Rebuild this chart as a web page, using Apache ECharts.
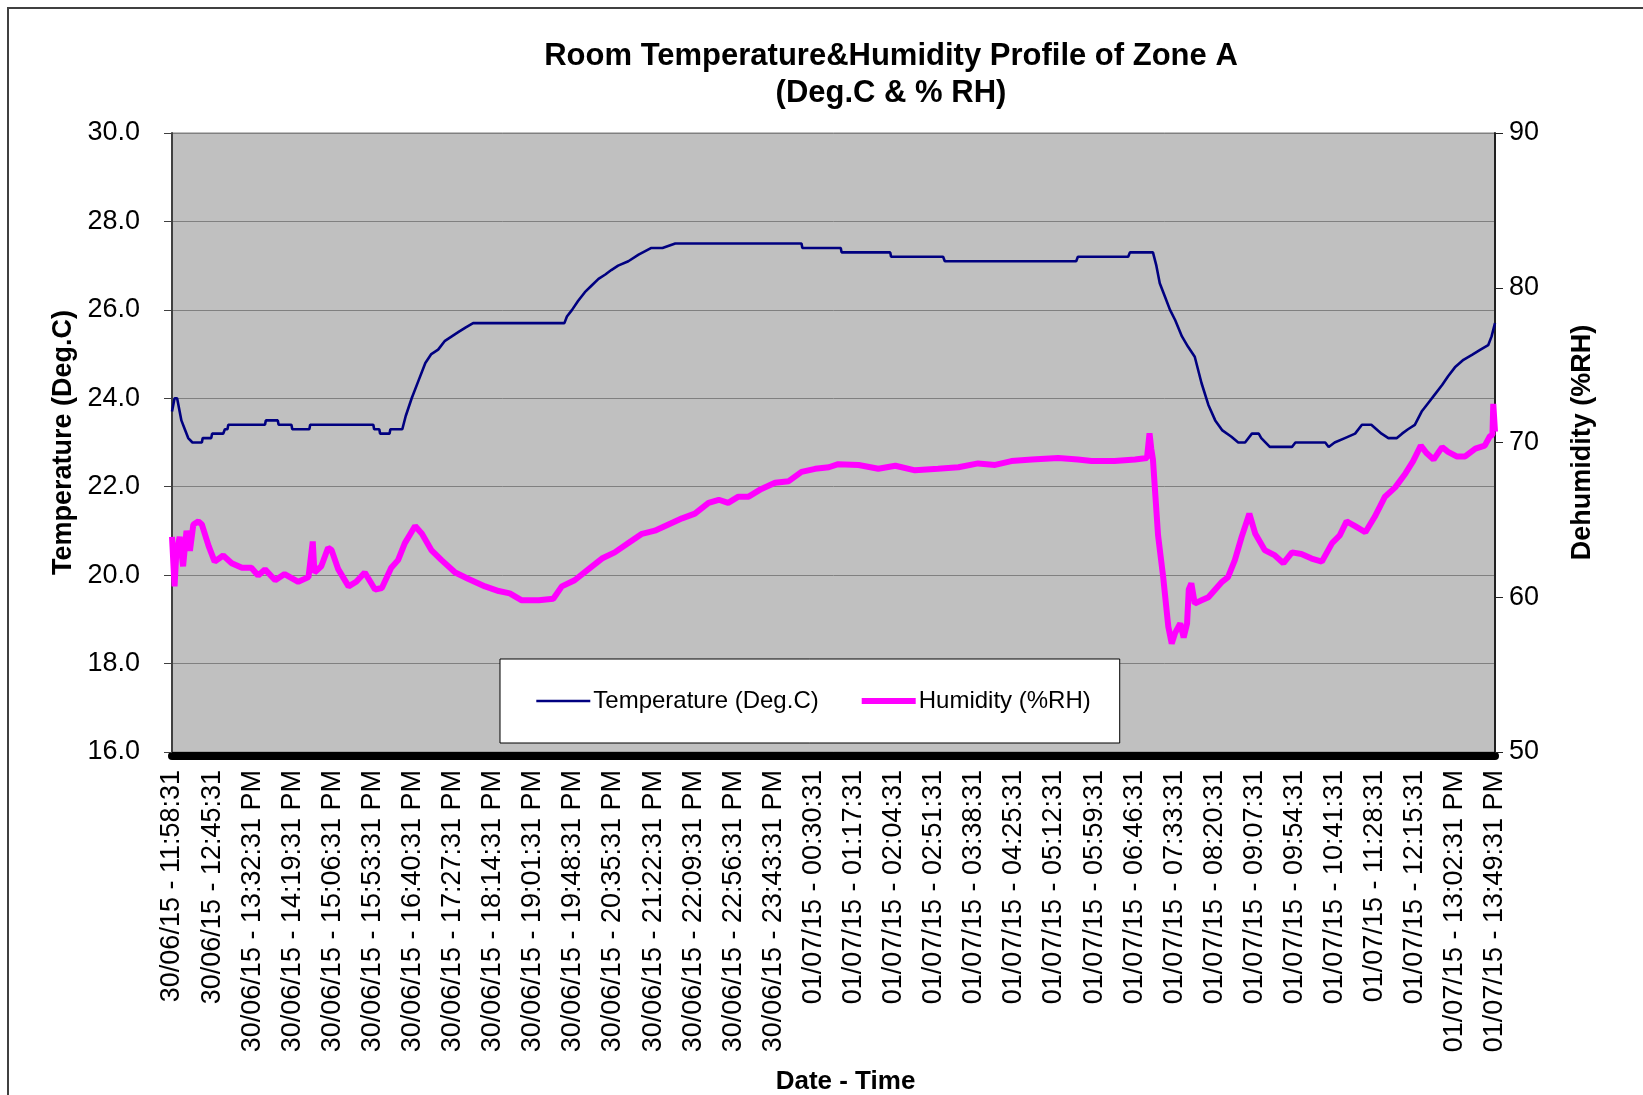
<!DOCTYPE html>
<html>
<head>
<meta charset="utf-8">
<title>Room Temperature&amp;Humidity Profile of Zone A</title>
<script src="https://cdn.jsdelivr.net/npm/echarts@6/dist/echarts.min.js"></script>
<style>
  html, body { margin: 0; padding: 0; background: #fff; }
  #chart { width: 1643px; height: 1095px; }
</style>
</head>
<body>
<div id="chart"></div>
<script>
// x axis: minutes since first reading, one label every 47 minutes
const labelStep = 47;
const xLabels = [
  '30/06/15 - 11:58:31', '30/06/15 - 12:45:31', '30/06/15 - 13:32:31 PM', '30/06/15 - 14:19:31 PM',
  '30/06/15 - 15:06:31 PM', '30/06/15 - 15:53:31 PM', '30/06/15 - 16:40:31 PM', '30/06/15 - 17:27:31 PM',
  '30/06/15 - 18:14:31 PM', '30/06/15 - 19:01:31 PM', '30/06/15 - 19:48:31 PM', '30/06/15 - 20:35:31 PM',
  '30/06/15 - 21:22:31 PM', '30/06/15 - 22:09:31 PM', '30/06/15 - 22:56:31 PM', '30/06/15 - 23:43:31 PM',
  '01/07/15 - 00:30:31', '01/07/15 - 01:17:31', '01/07/15 - 02:04:31', '01/07/15 - 02:51:31',
  '01/07/15 - 03:38:31', '01/07/15 - 04:25:31', '01/07/15 - 05:12:31', '01/07/15 - 05:59:31',
  '01/07/15 - 06:46:31', '01/07/15 - 07:33:31', '01/07/15 - 08:20:31', '01/07/15 - 09:07:31',
  '01/07/15 - 09:54:31', '01/07/15 - 10:41:31', '01/07/15 - 11:28:31', '01/07/15 - 12:15:31',
  '01/07/15 - 13:02:31 PM', '01/07/15 - 13:49:31 PM'
];

// temperature (Deg.C)
const tempTime = [0, 3, 6, 11, 15, 19, 24, 35, 36, 46, 47, 60, 62, 65, 66, 109, 110, 124, 125, 140,
  141, 161, 162, 236, 237, 243, 244, 255, 256, 270, 274, 281, 289, 297, 304, 312, 320, 328, 336, 344,
  353, 460, 463, 469, 476, 484, 492, 500, 508, 515, 523, 535, 547, 562, 575, 590, 738, 739, 784, 785,
  842, 843, 904, 906, 1060, 1062, 1121, 1123, 1150, 1154, 1158, 1164, 1170, 1176, 1184, 1191, 1199, 1207, 1215, 1223,
  1231, 1242, 1250, 1258, 1266, 1274, 1277, 1287, 1313, 1317, 1352, 1356, 1363, 1375, 1387, 1395, 1406, 1412, 1418, 1426,
  1436, 1442, 1449, 1457, 1465, 1473, 1481, 1489, 1496, 1504, 1514, 1524, 1534, 1543, 1547, 1551];
const tempValue = [23.7, 24.0, 24.0, 23.5, 23.3, 23.1, 23.0, 23.0, 23.1, 23.1, 23.2, 23.2, 23.3, 23.3, 23.4, 23.4, 23.5, 23.5, 23.4, 23.4,
  23.3, 23.3, 23.4, 23.4, 23.3, 23.3, 23.2, 23.2, 23.3, 23.3, 23.6, 24.0, 24.4, 24.8, 25.0, 25.1, 25.3, 25.4, 25.5, 25.6,
  25.7, 25.7, 25.85, 26.0, 26.2, 26.4, 26.55, 26.7, 26.8, 26.9, 27.0, 27.1, 27.25, 27.4, 27.4, 27.5, 27.5, 27.4, 27.4, 27.3,
  27.3, 27.2, 27.2, 27.1, 27.1, 27.2, 27.2, 27.3, 27.3, 27.0, 26.6, 26.3, 26.0, 25.77, 25.4, 25.17, 24.94, 24.34, 23.85, 23.5,
  23.28, 23.13, 23.0, 23.0, 23.2, 23.2, 23.1, 22.9, 22.9, 23.0, 23.0, 22.9, 23.0, 23.1, 23.2, 23.4, 23.4, 23.3, 23.2, 23.1,
  23.1, 23.2, 23.3, 23.4, 23.7, 23.9, 24.1, 24.3, 24.5, 24.7, 24.87, 24.98, 25.1, 25.2, 25.4, 25.7];

// humidity (%RH)
const rhTime = [0, 3, 5, 9, 13, 17, 21, 25, 31, 35, 43, 50, 60, 70, 82, 93, 101, 109, 121, 132,
  148, 160, 165, 167, 175, 183, 187, 195, 207, 216, 226, 238, 246, 257, 265, 273, 285, 293, 304, 316,
  332, 347, 367, 383, 396, 410, 430, 447, 457, 472, 488, 504, 519, 535, 551, 566, 582, 598, 613, 629,
  641, 652, 664, 676, 691, 707, 723, 738, 754, 770, 781, 805, 828, 848, 871, 898, 922, 945, 965, 984,
  1008, 1039, 1062, 1078, 1105, 1129, 1143, 1146, 1148, 1150, 1156, 1162, 1168, 1172, 1176, 1182, 1186, 1190, 1192, 1195,
  1199, 1207, 1215, 1223, 1231, 1238, 1246, 1254, 1263, 1270, 1281, 1293, 1303, 1313, 1324, 1336, 1348, 1360, 1369, 1377,
  1387, 1399, 1410, 1422, 1434, 1446, 1455, 1464, 1471, 1479, 1489, 1496, 1506, 1516, 1528, 1539, 1545, 1548, 1549, 1551];
const rhValue = [63.9, 60.7, 62.8, 63.9, 62.0, 64.3, 63.0, 64.7, 64.9, 64.7, 63.3, 62.3, 62.7, 62.2, 61.9, 61.9, 61.4, 61.8, 61.1, 61.5,
  61.0, 61.3, 63.6, 61.6, 62.0, 63.2, 63.05, 61.8, 60.7, 61.0, 61.6, 60.5, 60.6, 61.9, 62.4, 63.5, 64.6, 64.1, 63.05, 62.4,
  61.6, 61.2, 60.7, 60.4, 60.25, 59.8, 59.8, 59.9, 60.7, 61.1, 61.8, 62.5, 62.9, 63.5, 64.1, 64.3, 64.7, 65.1, 65.4, 66.1,
  66.3, 66.1, 66.5, 66.5, 67.0, 67.4, 67.5, 68.1, 68.3, 68.4, 68.6, 68.55, 68.3, 68.5, 68.2, 68.3, 68.4, 68.65, 68.55, 68.8,
  68.9, 69.0, 68.9, 68.8, 68.8, 68.9, 69.0, 70.6, 69.6, 68.9, 64.0, 61.3, 58.1, 57.0, 57.7, 58.3, 57.4, 58.3, 60.5, 60.9,
  59.6, 59.8, 60.0, 60.5, 61.0, 61.3, 62.4, 63.9, 65.4, 64.1, 63.05, 62.7, 62.2, 62.9, 62.8, 62.5, 62.3, 63.5, 64.0, 64.9,
  64.6, 64.2, 65.2, 66.5, 67.1, 68.0, 68.8, 69.8, 69.3, 68.9, 69.7, 69.4, 69.1, 69.1, 69.6, 69.8, 70.4, 70.5, 72.5, 70.7];

const font = 'Liberation Sans, Arial, sans-serif';
const chart = echarts.init(document.getElementById('chart'));

chart.setOption({
  backgroundColor: '#ffffff',
  animation: false,
  title: {
    text: 'Room Temperature&Humidity Profile of Zone A\n(Deg.C & % RH)',
    left: 886,
    top: 33,
    textAlign: 'center',
    textStyle: { fontFamily: font, fontSize: 31, fontWeight: 'bold', color: '#000', lineHeight: 37 }
  },
  graphic: [{
    type: 'rect',
    shape: { x: 8, y: 8, width: 1700, height: 1200 },
    style: { fill: 'none', stroke: '#404040', lineWidth: 2 },
    silent: true
  }],
  legend: {
    left: 500,
    top: 659,
    padding: [30, 29, 30, 35],
    itemGap: 40,
    itemWidth: 54,
    itemHeight: 14,
    // line only, no marker dot
    itemStyle: { opacity: 0 },
    backgroundColor: '#ffffff',
    borderColor: '#000000',
    borderWidth: 1,
    textStyle: { fontFamily: font, fontSize: 24, color: '#000', padding: [0, 0, 0, -2] },
    data: [
      { name: 'Temperature (Deg.C)', lineStyle: { width: 2.6 } },
      { name: 'Humidity (%RH)', lineStyle: { width: 6 } }
    ]
  },
  grid: {
    left: 172, right: 148, top: 133, bottom: 343,
    outerBoundsMode: 'none',
    show: true,
    backgroundColor: '#c0c0c0',
    borderColor: '#808080',
    borderWidth: 1
  },
  xAxis: {
    type: 'value',
    min: 0,
    max: (xLabels.length - 1) * labelStep,
    interval: labelStep,
    offset: 4,
    name: 'Date - Time',
    nameLocation: 'middle',
    nameGap: 313,
    nameTextStyle: { fontFamily: font, fontSize: 26, fontWeight: 'bold', color: '#000', padding: [0, 0, 0, 24] },
    axisLine: { show: true, lineStyle: { color: '#000', width: 8 } },
    axisTick: { show: false },
    splitLine: { show: false },
    axisLabel: {
      rotate: 90,
      margin: 14,
      fontFamily: font,
      fontSize: 27,
      color: '#000',
      formatter: v => xLabels[Math.round(v / labelStep)] || ''
    }
  },
  yAxis: [{
    type: 'value',
    position: 'left',
    min: 16,
    max: 30,
    interval: 2,
    name: 'Temperature (Deg.C)',
    nameLocation: 'middle',
    nameRotate: 90,
    nameGap: 89,
    nameTextStyle: { fontFamily: font, fontSize: 27, fontWeight: 'bold', color: '#000' },
    axisLine: { show: true, lineStyle: { color: '#404040', width: 2 } },
    axisTick: { show: true, inside: false, length: 8, lineStyle: { color: '#404040' } },
    axisLabel: { margin: 32, fontFamily: font, fontSize: 27, color: '#000', formatter: v => v.toFixed(1) },
    splitLine: { show: true, lineStyle: { color: '#808080', width: 1 } }
  }, {
    type: 'value',
    position: 'right',
    min: 50,
    max: 90,
    interval: 10,
    name: 'Dehumidity (%RH)',
    nameLocation: 'middle',
    nameRotate: 90,
    nameGap: 74,
    nameTextStyle: { fontFamily: font, fontSize: 27, fontWeight: 'bold', color: '#000' },
    axisLine: { show: true, lineStyle: { color: '#202020', width: 2 } },
    axisTick: { show: true, inside: false, length: 8, lineStyle: { color: '#202020' } },
    axisLabel: { margin: 14, fontFamily: font, fontSize: 27, color: '#000' },
    splitLine: { show: false }
  }],
  series: [{
    name: 'Temperature (Deg.C)',
    type: 'line',
    yAxisIndex: 0,
    symbol: 'none',
    color: '#000080',
    lineStyle: { color: '#000080', width: 2.6 },
    data: tempTime.map((t, i) => [t, tempValue[i]])
  }, {
    name: 'Humidity (%RH)',
    type: 'line',
    yAxisIndex: 1,
    symbol: 'none',
    color: '#ff00ff',
    lineStyle: { color: '#ff00ff', width: 6 },
    data: rhTime.map((t, i) => [t, rhValue[i]])
  }]
});
</script>
</body>
</html>
